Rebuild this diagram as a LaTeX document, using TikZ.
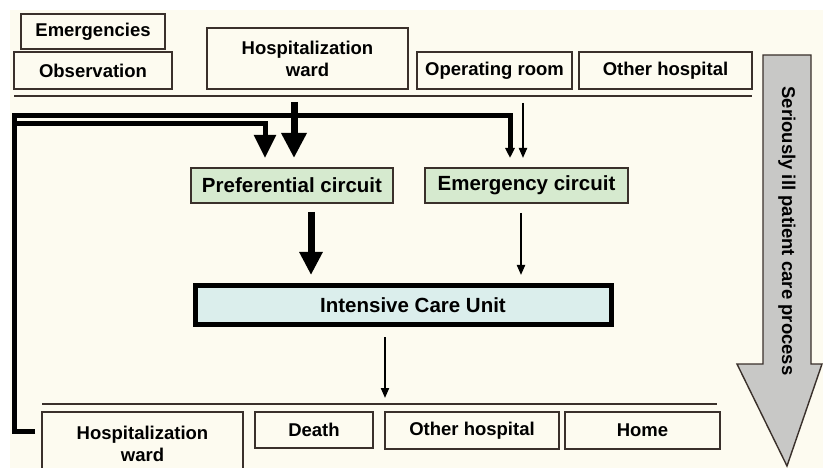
\documentclass[tikz,border=0pt]{standalone}
\usepackage{fontspec}
\setmainfont{Liberation Sans}
\usetikzlibrary{arrows.meta}
\definecolor{cream}{HTML}{FDFBF0}
\definecolor{edge}{HTML}{3A302B}
\definecolor{pgreen}{HTML}{D6EACF}
\definecolor{pblue}{HTML}{DBEEEC}
\definecolor{pgray}{HTML}{C8C8C6}
\tikzset{
  box/.style={draw=edge, line width=1.6pt, fill=cream, inner sep=0pt, align=center,
    font=\bfseries\fontsize{18.5}{22}\selectfont},
  circ/.style={draw=edge, line width=1.6pt, fill=pgreen, inner sep=0pt,
    font=\bfseries\fontsize{20.5}{24}\selectfont},
  sep/.style={draw=edge, line width=1.8pt},
  heavy/.style={line width=7pt, -{Triangle[width=24pt,length=25pt]}},
  medium/.style={line width=5pt, -{Triangle[width=21pt,length=23pt]}},
  thinloop/.style={line width=5pt, -{Triangle[width=9pt,length=10pt]}},
  light/.style={line width=2pt, -{Triangle[width=8pt,length=10pt]}},
}
\begin{document}
\begin{tikzpicture}[x=1pt,y=-1pt]
\useasboundingbox (0,0) rectangle (823,468);
\fill[white] (0,0) rectangle (823,468);
\fill[cream] (10,10) rectangle (823,468);

% top boxes
\node[box, minimum width=144pt, minimum height=35pt] (emerg) at (93,31.5) {Emergencies};
\node[box, minimum width=158pt, minimum height=37pt] (obs) at (93,70.5) {Observation};
\node[box, minimum width=201pt, minimum height=61pt] (hwtop) at (307.5,58.5) {Hospitalization\\ward};
\node[box, minimum width=155pt, minimum height=37pt] (oproom) at (494.5,70.5) {Operating room};
\node[box, minimum width=173pt, minimum height=37pt] (othtop) at (665.5,70.5) {Other hospital};
\draw[sep] (14,96) coordinate (s1a) -- (752,96) coordinate (s1b);

% gray process arrow
\draw[draw=edge, line width=1.4pt, fill=pgray, line join=miter]
  (763,55) -- (811,55) -- (811,364) -- (822,364) -- (787,466) -- (737,364) -- (763,364) -- cycle;
\node[rotate=-90, font=\bfseries\fontsize{18.5}{22}\selectfont] (proc) at (787,231) {Seriously ill patient care process};

% circuits
\node[circ, minimum width=202pt, minimum height=35pt] (pref) at (292,185.5) {Preferential circuit};
\node[circ, minimum width=203pt, minimum height=35pt] (emc) at (526.5,185.5) {Emergency circuit};

% ICU
\node[draw=black, line width=5pt, fill=pblue, minimum width=416pt, minimum height=39pt,
  font=\bfseries\fontsize{20.5}{24}\selectfont] (icu) at (403,305) {\hspace*{20pt}Intensive Care Unit};

% bottom
\draw[sep] (42,404) coordinate (s2a) -- (717,404) coordinate (s2b);
\draw[box] (42,412) rectangle (243,490);
\node[box, draw=none, fill=none] (hwbot) at (142.5,444) {Hospitalization\\ward};
\node[box, minimum width=118pt, minimum height=36pt] (death) at (314,430) {Death};
\node[box, minimum width=174pt, minimum height=37pt] (othbot) at (472,430.5) {Other hospital};
\node[box, minimum width=155pt, minimum height=37pt] (home) at (642.5,430.5) {Home};

% connectors
\coordinate (hwout) at (294,102);
\coordinate (hwin) at (294,158);
\draw[heavy] (hwout) -- (hwin);

\coordinate (retstart) at (35,431);
\coordinate (emin) at (510,158);
\draw[thinloop, line join=miter] (retstart) -- (14,431) -- (14,116) -- (510,116) -- (emin);

\coordinate (branch) at (14,124);
\coordinate (prefin) at (265,158);
\draw[medium, line join=miter] (branch) -- (265,124) -- (prefin);

\coordinate (orout) at (523,103);
\coordinate (orin) at (523,158);
\draw[light] (orout) -- (orin);

\coordinate (prefout) at (311,212);
\coordinate (icuinA) at (311,275);
\draw[heavy, -{Triangle[width=22pt,length=23pt]}] (prefout) -- (icuinA);

\coordinate (emout) at (521,213);
\coordinate (icuinB) at (521,275);
\draw[light] (emout) -- (icuinB);

\coordinate (icuout) at (385,337);
\coordinate (botin) at (385,398);
\draw[light] (icuout) -- (botin);
\end{tikzpicture}
\end{document}
